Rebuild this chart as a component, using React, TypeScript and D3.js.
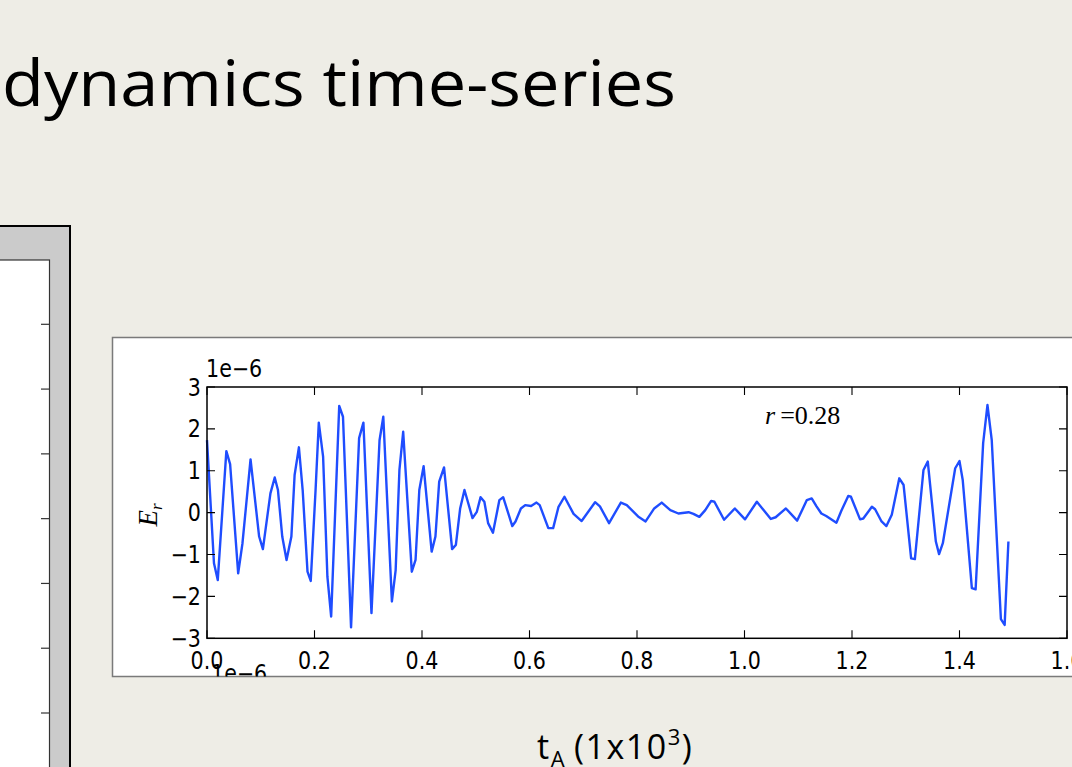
import React from "react";
import * as d3 from "d3";

// ---- data (E_r in units of 1e-6, t in units of 1e3 t_A) ----
const tValues = [
  0.000, 0.013, 0.020, 0.036, 0.043, 0.058, 0.066, 0.081, 0.097, 0.104,
  0.118, 0.126, 0.132, 0.140, 0.148, 0.157, 0.163, 0.171, 0.178, 0.187,
  0.193, 0.202, 0.208, 0.216, 0.224, 0.231, 0.246, 0.253, 0.268, 0.283,
  0.291, 0.306, 0.321, 0.328, 0.344, 0.351, 0.358, 0.365, 0.381, 0.388,
  0.395, 0.403, 0.418, 0.425, 0.432, 0.441, 0.456, 0.463, 0.471, 0.479,
  0.494, 0.502, 0.509, 0.516, 0.523, 0.532, 0.544, 0.551, 0.568, 0.574,
  0.584, 0.592, 0.603, 0.613, 0.619, 0.635, 0.644, 0.654, 0.665, 0.682,
  0.697, 0.722, 0.731, 0.748, 0.770, 0.781, 0.802, 0.816, 0.832, 0.846,
  0.862, 0.877, 0.896, 0.905, 0.916, 0.927, 0.938, 0.944, 0.962, 0.982,
  1.001, 1.023, 1.049, 1.058, 1.077, 1.098, 1.116, 1.125, 1.134, 1.143,
  1.152, 1.171, 1.180, 1.193, 1.198, 1.215, 1.221, 1.237, 1.243, 1.255,
  1.264, 1.274, 1.288, 1.296, 1.310, 1.317, 1.333, 1.341, 1.356, 1.362,
  1.369, 1.392, 1.400, 1.406, 1.423, 1.430, 1.444, 1.452, 1.460, 1.477,
  1.484, 1.491,
];
const erValues = [
  1.73, -1.21, -1.61, 1.47, 1.16, -1.45, -0.73, 1.27, -0.57, -0.87,
  0.46, 0.84, 0.54, -0.57, -1.13, -0.57, 0.90, 1.56, 0.54, -1.41,
  -1.63, 0.54, 2.15, 1.34, -1.53, -2.48, 2.55, 2.29, -2.74, 1.78,
  2.15, -2.40, 1.73, 2.29, -2.12, -1.37, 1.02, 1.93, -1.41, -1.13,
  0.54, 1.11, -0.93, -0.57, 0.74, 1.08, -0.87, -0.77, 0.10, 0.54,
  -0.13, 0.02, 0.37, 0.26, -0.25, -0.48, 0.30, 0.37, -0.32, -0.21,
  0.10, 0.18, 0.16, 0.24, 0.18, -0.37, -0.37, 0.14, 0.38, -0.03,
  -0.20, 0.25, 0.15, -0.25, 0.24, 0.18, -0.09, -0.21, 0.10, 0.24,
  0.06, -0.02, 0.01, -0.03, -0.10, 0.06, 0.28, 0.26, -0.17, 0.10,
  -0.16, 0.26, -0.15, -0.11, 0.10, -0.19, 0.30, 0.34, 0.15, -0.02,
  -0.08, -0.24, 0.04, 0.40, 0.38, -0.16, -0.14, 0.14, 0.08, -0.21,
  -0.32, -0.05, 0.82, 0.66, -1.09, -1.11, 1.02, 1.22, -0.69, -0.99,
  -0.73, 1.06, 1.23, 0.78, -1.80, -1.83, 1.66, 2.57, 1.73, -2.54,
  -2.68, -0.69,
];
const xTicks = [0.0, 0.2, 0.4, 0.6, 0.8, 1.0, 1.2, 1.4, 1.6];
const yTicks = [-3, -2, -1, 0, 1, 2, 3];
const leftPanelTicks = [3, 2, 1, 0, -1, -2, -3];

const titleText = "dynamics time-series";
const annotation = "=0.28";
const offsetText = "1e\u22126";

const fmtX = (v: number) => v.toFixed(1);
const fmtY = (v: number) => (v < 0 ? "\u2212" + Math.abs(v) : String(v));

const tickFont = "'DejaVu Sans', sans-serif";
const serifFont = "'Liberation Serif', 'DejaVu Serif', serif";

function Label(props: { x: number; y: number; anchor?: string; children: React.ReactNode }) {
  return (
    <text
      transform={`translate(${props.x},${props.y}) scale(0.86,1)`}
      textAnchor={props.anchor || "start"}
      fontFamily={tickFont}
      fontSize={24}
      fill="#000"
    >
      {props.children}
    </text>
  );
}

export default function App() {
  const W = 1072;
  const H = 767;
  const x = d3.scaleLinear().domain([0, 1.6]).range([207, 1067]);
  const y = d3.scaleLinear().domain([-3, 3]).range([638.3, 387]);
  const yLeft = d3.scaleLinear().domain([3, -3]).range([324.3, 713]);

  const pts: [number, number][] = tValues.map((t, i) => [t, erValues[i]]);
  const line = d3
    .line<[number, number]>()
    .x((d) => x(d[0]))
    .y((d) => y(d[1]));

  const tickLen = 8;
  const x0 = x(0), x1 = x(1.6), y0 = y(-3), y1 = y(3);

  return (
    <svg
      width={W}
      height={H}
      viewBox={`0 0 ${W} ${H}`}
      style={{ position: "absolute", left: 0, top: 0, display: "block" }}
    >
      <defs>
        <clipPath id="figClip">
          <rect x={112.5} y={337.5} width={1000} height={339} />
        </clipPath>
      </defs>
      <rect x={0} y={0} width={W} height={H} fill="#eeede6" />

      {/* slide title */}
      <text
        x={2}
        y={106}
        fontFamily="'Open Sans', sans-serif"
        fontSize={64}
        fill="#000"
        textLength={674}
        lengthAdjust="spacingAndGlyphs"
      >
        {titleText}
      </text>

      {/* left panel (partially visible figure) */}
      <rect x={-5} y={226} width={75} height={600} fill="#cbcbcb" stroke="#000" strokeWidth={2} />
      <rect x={-5} y={260} width={54.5} height={600} fill="#fff" stroke="#333" strokeWidth={1.2} />
      {leftPanelTicks.map((v) => (
        <line key={"lt" + v} x1={41} x2={49} y1={yLeft(v)} y2={yLeft(v)} stroke="#333" strokeWidth={1.2} />
      ))}

      {/* figure box */}
      <rect x={112.5} y={337.5} width={1000} height={339} fill="#fff" stroke="#7a7a7a" strokeWidth={1.5} />

      <g clipPath="url(#figClip)">
        {/* data line */}
        <path d={line(pts) || ""} fill="none" stroke="#1f4dff" strokeWidth={2.4} strokeLinejoin="round" />

        {/* axes frame */}
        <rect x={x0} y={y1} width={x1 - x0} height={y0 - y1} fill="none" stroke="#000" strokeWidth={1.5} />

        {/* x ticks (inside, bottom and top) */}
        {xTicks.map((v) => (
          <g key={"xt" + v}>
            <line x1={x(v)} x2={x(v)} y1={y0} y2={y0 - tickLen} stroke="#000" strokeWidth={1.1} />
            <line x1={x(v)} x2={x(v)} y1={y1} y2={y1 + tickLen} stroke="#000" strokeWidth={1.1} />
            <Label x={x(v)} y={669} anchor="middle">
              {fmtX(v)}
            </Label>
          </g>
        ))}

        {/* y ticks (inside, left and right) */}
        {yTicks.map((v) => (
          <g key={"yt" + v}>
            <line x1={x0} x2={x0 + tickLen} y1={y(v)} y2={y(v)} stroke="#000" strokeWidth={1.1} />
            <line x1={x1} x2={x1 - tickLen} y1={y(v)} y2={y(v)} stroke="#000" strokeWidth={1.1} />
            <Label x={201} y={y(v) + 8.5} anchor="end">
              {fmtY(v)}
            </Label>
          </g>
        ))}

        {/* offset text */}
        <Label x={206} y={377}>
          {offsetText}
        </Label>
        {/* offset text of the subplot below, clipped */}
        <Label x={211} y={682}>
          {offsetText}
        </Label>

        {/* y label E_r */}
        <text
          transform={`translate(157, 515) rotate(-90)`}
          textAnchor="middle"
          fontFamily={serifFont}
          fontStyle="italic"
          fontSize={27}
          fill="#000"
        >
          E<tspan fontSize={17} dy={5}>r</tspan>
        </text>

        {/* annotation */}
        <text x={765} y={424} fontFamily={serifFont} fontSize={26} fill="#000">
          <tspan fontStyle="italic">r</tspan>
          <tspan dx={5}>{annotation}</tspan>
        </text>
      </g>

      {/* bottom slide label */}
      <text x={537} y={759} fontFamily="'Open Sans', sans-serif" fontSize={34} letterSpacing={1.5} fill="#000">
        t
        <tspan fontSize={22} dy={8}>A</tspan>
        <tspan dy={-8} dx={8}>(1x10</tspan>
        <tspan fontSize={22} dy={-14}>3</tspan>
        <tspan dy={14}>)</tspan>
      </text>
    </svg>
  );
}
